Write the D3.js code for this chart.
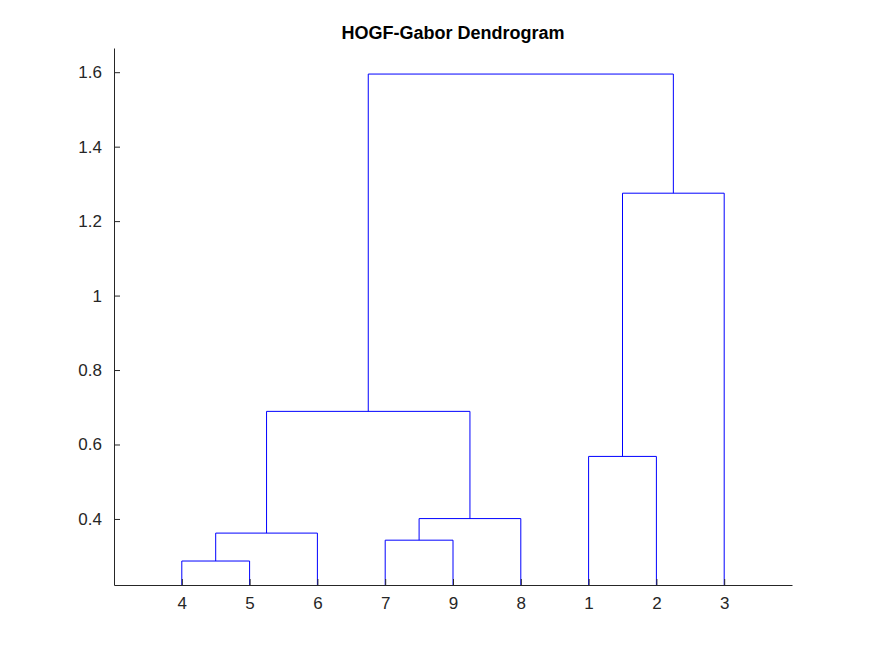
<!DOCTYPE html>
<html><head><meta charset="utf-8">
<script src="https://cdn.jsdelivr.net/npm/d3@7"></script>
<style>body{margin:0;background:#fff}text{font-family:"Liberation Sans",Arial,sans-serif}</style>
</head><body><div id="chart"></div>
<script>
const leafOrder = ["4", "5", "6", "7", "9", "8", "1", "2", "3"];
// merges: [left, right, height]; nodes referenced by leaf label or merge name
const mergeNames = ["m45", "m456", "m79", "m798", "mA", "m12", "m123", "root"];
const mergeLeft = ["4", "m45", "7", "m79", "m456", "1", "m12", "mA"];
const mergeRight = ["5", "6", "9", "8", "m798", "2", "3", "m123"];
const mergeHeight = [0.287, 0.362, 0.343, 0.401, 0.689, 0.568, 1.275, 1.595];
const yTicks = [0.4, 0.6, 0.8, 1, 1.2, 1.4, 1.6];

const W = 875, H = 656;
const margin = { top: 48, right: 83, bottom: 71, left: 114 };
const svg = d3.select("#chart").append("svg").attr("width", W).attr("height", H);

const x = d3.scaleLinear().domain([0, leafOrder.length + 1]).range([margin.left, W - margin.right]);
const y = d3.scaleLinear().domain([0.2226, 1.665]).range([H - margin.bottom, margin.top]);

const pos = {};
leafOrder.forEach((l, i) => { pos[l] = { x: i + 1, h: y.domain()[0] }; });

const g = svg.append("g");
mergeNames.forEach((name, i) => {
  const a = pos[mergeLeft[i]], b = pos[mergeRight[i]], h = mergeHeight[i];
  pos[name] = { x: (a.x + b.x) / 2, h: h };
  g.append("path")
    .attr("d", `M${x(a.x)},${y(a.h)}V${y(h)}H${x(b.x)}V${y(b.h)}`)
    .attr("fill", "none").attr("stroke", "#0000ff").attr("stroke-width", 1);
});

const yAxis = svg.append("g").attr("transform", `translate(${margin.left},0)`)
  .call(d3.axisLeft(y).tickValues(yTicks).tickSizeInner(-6).tickSizeOuter(0).tickPadding(12).tickFormat(d3.format("")));
const xAxis = svg.append("g").attr("transform", `translate(0,${H - margin.bottom})`)
  .call(d3.axisBottom(x).tickValues(leafOrder.map((l, i) => i + 1)).tickSizeInner(-6).tickSizeOuter(0).tickPadding(12)
    .tickFormat((d) => leafOrder[d - 1]));
[yAxis, xAxis].forEach((a) => {
  a.selectAll("path,line").attr("stroke", "#262626");
  a.selectAll("text").attr("fill", "#262626").style("font-size", "17px");
});

svg.append("text").attr("x", (margin.left + W - margin.right) / 2).attr("y", 39)
  .attr("text-anchor", "middle").style("font-size", "18px").style("font-weight", "bold")
  .text("HOGF-Gabor Dendrogram");
</script></body></html>
